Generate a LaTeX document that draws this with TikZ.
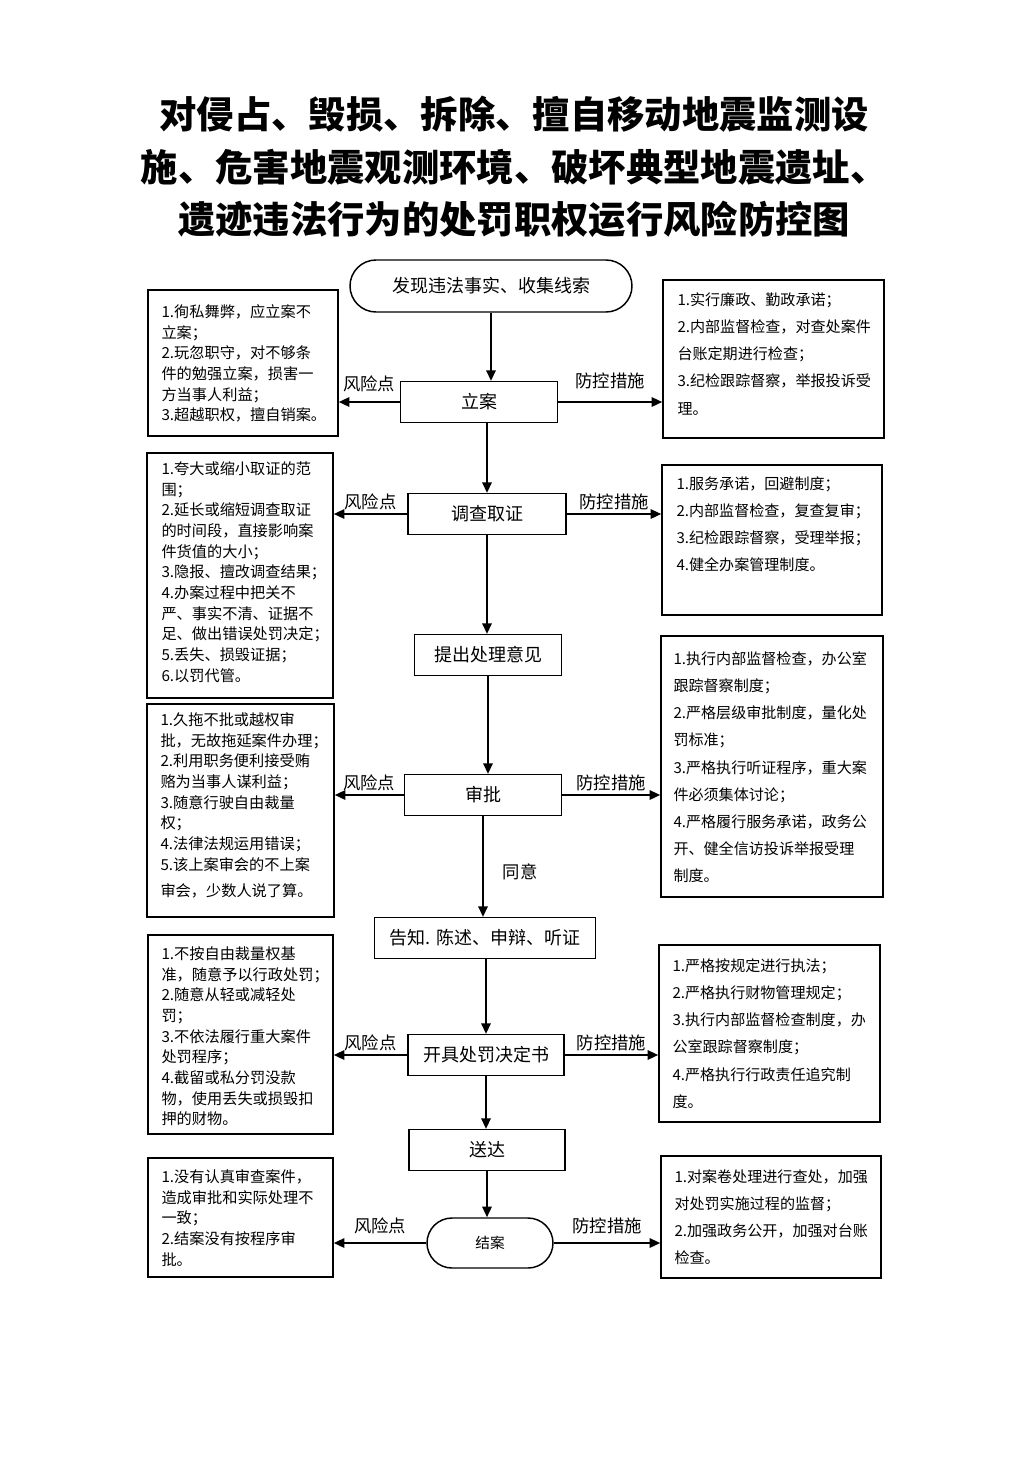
\documentclass[tikz,border=0pt]{standalone}
\usepackage{fontspec}
\setmainfont{Noto Sans CJK SC}
\usetikzlibrary{arrows.meta,fit,positioning}

\begin{document}
\begin{tikzpicture}[x=0.75pt,y=-0.75pt,
  box/.style={draw,line width=1.1pt,inner sep=0pt},
  stepbox/.style={draw,line width=1.1pt,inner sep=0pt,minimum width=117.75pt,minimum height=30.5pt,font=\fontsize{13.5}{16}\selectfont},
  lefttext/.style={anchor=north west,inner sep=0pt,align=left,font=\fontsize{11.4}{15.5}\selectfont},
  righttext/.style={anchor=north west,inner sep=0pt,align=left,font=\fontsize{11.3}{20.4}\selectfont},
  arr/.style={line width=1.6pt,-{Triangle[length=8pt,width=7pt]}},
  lab/.style={font=\fontsize{13}{15}\selectfont,inner sep=2pt}]

\useasboundingbox (0,0) rectangle (1033,1460);

%title
\node[align=center,font=\fontsize{28}{39.4}\selectfont\bfseries] (title) at (514,167)
  {对侵占、毁损、拆除、擅自移动地震监测设\\施、危害地震观测环境、破坏典型地震遗址、\\遗迹违法行为的处罚职权运行风险防控图};

%main steps
\node[stepbox,minimum width=211.5pt,minimum height=39pt,rounded corners=19.5pt] (faxian) at (491,286) {发现违法事实、收集线索};
\node[stepbox] (lian) at (479,402) {立案};
\node[stepbox,minimum width=118.5pt] (diaocha) at (487,514) {调查取证};
\node[stepbox,minimum width=110.25pt] (tichu) at (488,655) {提出处理意见};
\node[stepbox] (shenpi) at (483,795) {审批};
\node[stepbox,minimum width=165.75pt] (gaozhi) at (485,938) {告知. 陈述、申辩、听证};
\node[stepbox,minimum width=117pt] (kaiju) at (486,1055) {开具处罚决定书};
\node[stepbox,minimum width=117pt] (songda) at (487,1150) {送达};
\node[stepbox,minimum width=94.5pt,minimum height=37.5pt,rounded corners=18.75pt,font=\fontsize{11}{13}\selectfont] (jiean) at (490,1243) {结案};

%risk boxes
\node[box,fit={(148,290) (338,436)}] (risk1) {};
\node[box,fit={(147,453) (333,698)}] (risk2) {};
\node[box,fit={(147,704) (334,917)}] (risk3) {};
\node[box,fit={(148,935) (333,1134)}] (risk4) {};
\node[box,fit={(148,1158) (333,1277)}] (risk5) {};

%control boxes
\node[box,fit={(663,280) (884,438)}] (ctrl1) {};
\node[box,fit={(662,465) (882,615)}] (ctrl2) {};
\node[box,fit={(661,636) (883,897)}] (ctrl3) {};
\node[box,fit={(659,945) (880,1122)}] (ctrl4) {};
\node[box,fit={(661,1156) (881,1278)}] (ctrl5) {};

\node[lefttext] (risk1t) at ([shift={(14,15)}]risk1.north west)
  {1.徇私舞弊，应立案不\\立案；\\2.玩忽职守，对不够条\\件的勉强立案，损害一\\方当事人利益；\\3.超越职权，擅自销案。};
\node[lefttext] (risk2t) at ([shift={(15,9)}]risk2.north west)
  {1.夸大或缩小取证的范\\围；\\2.延长或缩短调查取证\\的时间段，直接影响案\\件货值的大小；\\3.隐报、擅改调查结果；\\4.办案过程中把关不\\严、事实不清、证据不\\足、做出错误处罚决定；\\5.丢失、损毁证据；\\6.以罚代管。};
\node[lefttext] (risk3t) at ([shift={(14,9)}]risk3.north west)
  {1.久拖不批或越权审\\批，无故拖延案件办理；\\2.利用职务便利接受贿\\赂为当事人谋利益；\\3.随意行驶自由裁量\\权；\\4.法律法规运用错误；\\5.该上案审会的不上案\\[4pt]审会，少数人说了算。};
\node[lefttext] (risk4t) at ([shift={(14,12)}]risk4.north west)
  {1.不按自由裁量权基\\准，随意予以行政处罚；\\2.随意从轻或减轻处\\罚；\\3.不依法履行重大案件\\处罚程序；\\4.截留或私分罚没款\\物，使用丢失或损毁扣\\押的财物。};
\node[lefttext] (risk5t) at ([shift={(14,12)}]risk5.north west)
  {1.没有认真审查案件，\\造成审批和实际处理不\\一致；\\2.结案没有按程序审\\批。};

\node[righttext] (ctrl1t) at ([shift={(15,13)}]ctrl1.north west)
  {1.实行廉政、勤政承诺；\\2.内部监督检查，对查处案件\\台账定期进行检查；\\3.纪检跟踪督察，举报投诉受\\理。};
\node[righttext] (ctrl2t) at ([shift={(15,12)}]ctrl2.north west)
  {1.服务承诺，回避制度；\\2.内部监督检查，复查复审；\\3.纪检跟踪督察，受理举报；\\4.健全办案管理制度。};
\node[righttext] (ctrl3t) at ([shift={(13,16)}]ctrl3.north west)
  {1.执行内部监督检查，办公室\\跟踪督察制度；\\2.严格层级审批制度，量化处\\罚标准；\\3.严格执行听证程序，重大案\\件必须集体讨论；\\4.严格履行服务承诺，政务公\\开、健全信访投诉举报受理\\制度。};
\node[righttext] (ctrl4t) at ([shift={(14,14)}]ctrl4.north west)
  {1.严格按规定进行执法；\\2.严格执行财物管理规定；\\3.执行内部监督检查制度，办\\公室跟踪督察制度；\\4.严格执行行政责任追究制\\度。};
\node[righttext] (ctrl5t) at ([shift={(14,14)}]ctrl5.north west)
  {1.对案卷处理进行查处，加强\\对处罚实施过程的监督；\\2.加强政务公开，加强对台账\\检查。};

%down arrows
\draw[arr] (faxian.south) -- (faxian.south |- lian.north);
\draw[arr] (lian.south -| diaocha.north) -- (diaocha.north);
\draw[arr] (diaocha.south) -- (diaocha.south |- tichu.north);
\draw[arr] (tichu.south) -- (tichu.south |- shenpi.north);
\draw[arr] (shenpi.south) -- (shenpi.south |- gaozhi.north) node[pos=0.55,right=12pt,lab] {同意};
\draw[arr] (gaozhi.south -| kaiju.north) -- (kaiju.north);
\draw[arr] (kaiju.south) -- (kaiju.south |- songda.north);
\draw[arr] (songda.south) -- (songda.south |- jiean.north);

%risk and control arrows
\path (lian.west) edge[arr] node[above=5pt,lab] {风险点} (lian.west -| risk1.east);
\path (lian.east) edge[arr] node[above=7pt,lab] {防控措施} (lian.east -| ctrl1.west);
\path (diaocha.west) edge[arr] node[above,lab] {风险点} (diaocha.west -| risk2.east);
\path (diaocha.east) edge[arr] node[above,lab] {防控措施} (diaocha.east -| ctrl2.west);
\path (shenpi.west) edge[arr] node[above,lab] {风险点} (shenpi.west -| risk3.east);
\path (shenpi.east) edge[arr] node[above,lab] {防控措施} (shenpi.east -| ctrl3.west);
\path (kaiju.west) edge[arr] node[above,lab] {风险点} (kaiju.west -| risk4.east);
\path (kaiju.east) edge[arr] node[above,lab] {防控措施} (kaiju.east -| ctrl4.west);
\path (jiean.west) edge[arr] node[above=4pt,lab] {风险点} (jiean.west -| risk5.east);
\path (jiean.east) edge[arr] node[above=4pt,lab] {防控措施} (jiean.east -| ctrl5.west);
\end{tikzpicture}
\end{document}
